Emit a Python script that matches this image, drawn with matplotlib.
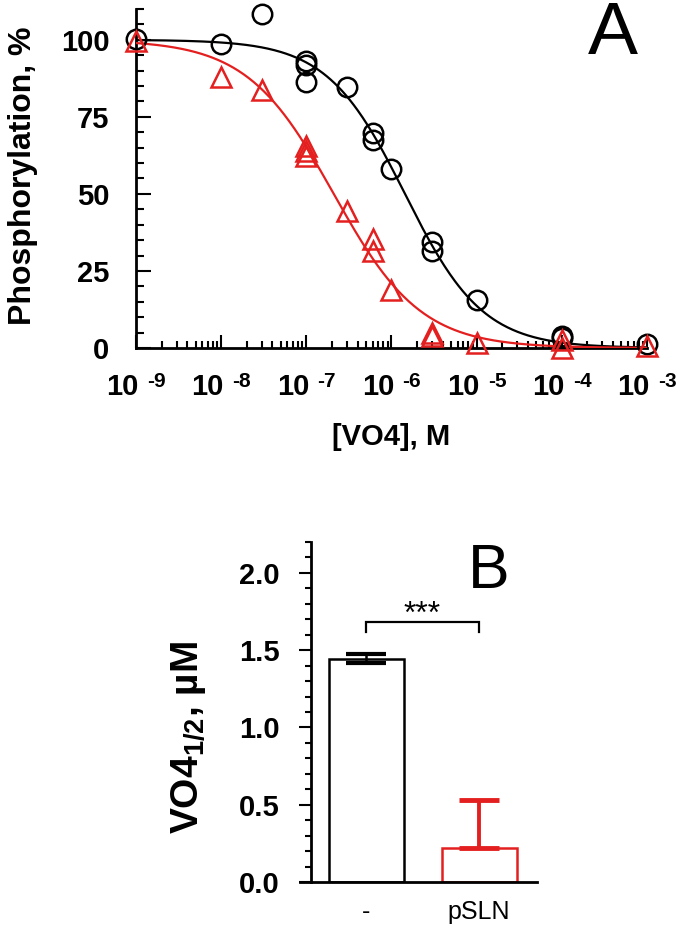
import numpy as np
import matplotlib
matplotlib.use("Agg")
import matplotlib.pyplot as plt
import matplotlib.transforms as mtransforms
from matplotlib.ticker import LogLocator, NullFormatter, MultipleLocator, FixedLocator

plt.rcParams['font.family'] = ['Liberation Sans', 'DejaVu Sans']
plt.rcParams['mathtext.fontset'] = 'custom'
plt.rcParams['mathtext.rm'] = 'Liberation Sans'
plt.rcParams['mathtext.bf'] = 'Liberation Sans:bold'

# panel A data: [VO4] in M, phosphorylation in %
CTRL_X = [1e-9, 1e-8, 3e-8, 1e-7, 1e-7, 1e-7, 3e-7, 6e-7, 6e-7, 1e-6, 3e-6, 3e-6, 1e-5, 1e-4, 1e-4, 1e-3]
CTRL_Y = [100.2, 98.6, 108.4, 93.0, 91.9, 86.2, 84.6, 69.7, 67.6, 58.0, 34.3, 31.4, 15.7, 3.8, 3.2, 1.2]
PSLN_X = [1e-9, 1e-8, 3e-8, 1e-7, 1e-7, 1e-7, 3e-7, 6e-7, 6e-7, 1e-6, 3e-6, 3e-6, 1e-5, 1e-4, 1e-4, 1e-3]
PSLN_Y = [99.5, 88.0, 83.6, 65.4, 63.8, 62.2, 44.3, 35.3, 31.4, 18.9, 4.9, 3.8, 1.5, 2.5, 0.0, 0.5]

# Hill fits (IC50 in M, Hill coefficient)
CTRL_FIT = (1.44e-6, 0.95)
PSLN_FIT = (2.1e-7, 0.85)

XTICKS = [1e-9, 1e-8, 1e-7, 1e-6, 1e-5, 1e-4, 1e-3]
XTICK_EXP = ['-9', '-8', '-7', '-6', '-5', '-4', '-3']

# panel B data: VO4 1/2 in uM
BAR_LABELS = ['-', 'pSLN']
BAR_VALUES = [1.44, 0.22]
BAR_ERR_LOW = [0.025, 0.0]
BAR_ERR_HIGH = [0.035, 0.31]

RED = '#e3201f'
BLACK = 'black'

fig = plt.figure(figsize=(6.85, 9.34), dpi=100)

# ---------------- panel A ----------------
axA = fig.add_axes([0.1985, 0.6274, 0.746, 0.363])
xs = np.logspace(-9, -3, 400)
for (ic50, n), col in [(CTRL_FIT, BLACK), (PSLN_FIT, RED)]:
    axA.plot(xs, 100.0 / (1.0 + (xs / ic50) ** n), color=col, lw=1.6, zorder=3)

axA.plot(CTRL_X, CTRL_Y, 'o', ms=14, mfc='none', mec=BLACK, mew=1.8, clip_on=False, zorder=4)
axA.plot(PSLN_X, PSLN_Y, '^', ms=14, mfc='none', mec=RED, mew=1.8, clip_on=False, zorder=5)

axA.set_xscale('log')
axA.set_xlim(1e-9, 1e-3)
axA.set_ylim(0, 110)
axA.xaxis.set_major_locator(FixedLocator(XTICKS))
axA.xaxis.set_major_formatter(NullFormatter())
axA.xaxis.set_minor_locator(LogLocator(base=10, subs=np.arange(2, 10)))
axA.xaxis.set_minor_formatter(NullFormatter())
axA.set_yticks([0, 25, 50, 75, 100])
axA.yaxis.set_minor_locator(MultipleLocator(5))

# x tick labels as "10" plus a raised exponent
trans = mtransforms.blended_transform_factory(axA.transData, axA.transAxes)
for xt, ex in zip(XTICKS, XTICK_EXP):
    t1 = trans + mtransforms.ScaledTranslation(2 / 72, -39 / 100, fig.dpi_scale_trans)
    axA.text(xt, 0, '10', transform=t1, ha='right', va='center', fontsize=21,
             fontweight='bold', clip_on=False)
    t2 = trans + mtransforms.ScaledTranslation(8 / 72, -33 / 100, fig.dpi_scale_trans)
    axA.text(xt, 0, ex, transform=t2, ha='left', va='center', fontsize=15,
             fontweight='bold', clip_on=False)

for s in ['top', 'right']:
    axA.spines[s].set_visible(False)
for s in ['left', 'bottom']:
    axA.spines[s].set_linewidth(2)

axA.tick_params(axis='x', which='major', direction='in', length=9.5, width=1.5)
axA.tick_params(axis='x', which='minor', direction='in', length=5, width=1.5)
axA.tick_params(axis='y', which='major', direction='in', length=10.5, width=1.5, pad=19, labelsize=21)
axA.tick_params(axis='y', which='minor', direction='in', length=6, width=1.5)
for lbl in axA.get_yticklabels():
    lbl.set_fontweight('bold')

fig.text(23 / 685, 1 - 176 / 934, 'Phosphorylation, %', rotation=90, ha='center', va='center',
         fontsize=23, fontweight='bold')
fig.text(391 / 685, 1 - 437 / 934, '[VO4], M', ha='center', va='center', fontsize=21, fontweight='bold')
fig.text(613 / 685, 1 - 34 / 934, 'A', ha='center', va='center', fontsize=54)

# ---------------- panel B ----------------
axB = fig.add_axes([0.438, 0.0557, 0.346, 0.364])
pos = np.arange(len(BAR_VALUES))
cols = [BLACK, RED]
axB.bar(pos, BAR_VALUES, width=0.664, color='white', edgecolor=cols, linewidth=1.8, zorder=2)
axB.errorbar(pos[0], BAR_VALUES[0], yerr=[[BAR_ERR_LOW[0]], [BAR_ERR_HIGH[0]]], fmt='none',
             ecolor=BLACK, elinewidth=1.8, capsize=14.5, capthick=3, zorder=3)
axB.errorbar(pos[1], BAR_VALUES[1], yerr=[[BAR_ERR_LOW[1]], [BAR_ERR_HIGH[1]]], fmt='none',
             ecolor=RED, elinewidth=2.8, capsize=14.5, capthick=3.5, zorder=3)

axB.set_xlim(-0.584, 1.513)
axB.set_ylim(0, 2.2)
axB.set_xticks(pos)
axB.set_xticklabels(BAR_LABELS)
axB.set_yticks([0.0, 0.5, 1.0, 1.5, 2.0])
axB.set_yticklabels(['0.0', '0.5', '1.0', '1.5', '2.0'])
axB.yaxis.set_minor_locator(MultipleLocator(0.1))
axB.spines['left'].set_position(('data', -0.487))
for s in ['top', 'right']:
    axB.spines[s].set_visible(False)
for s in ['left', 'bottom']:
    axB.spines[s].set_linewidth(2)
axB.tick_params(axis='x', length=0, pad=13, labelsize=18)
axB.tick_params(axis='y', which='major', direction='out', length=8.5, width=1.5, pad=14, labelsize=21)
axB.tick_params(axis='y', which='minor', direction='out', length=4.5, width=1.5)
for lbl in axB.get_yticklabels():
    lbl.set_fontweight('bold')

# significance bracket
axB.plot([pos[0], pos[0], pos[1], pos[1]], [1.62, 1.685, 1.685, 1.62], color=BLACK, lw=1.6,
         solid_joinstyle='miter', zorder=3)
axB.text((pos[0] + pos[1]) / 2, 1.73, '***', ha='center', va='center', fontsize=23)

fig.text(188 / 685, 1 - 738 / 934, r'VO4$_{\mathbf{1/2}}$, µM', rotation=90, ha='center', va='center',
         fontsize=28, fontweight='bold')
fig.text(489 / 685, 1 - 572 / 934, 'B', ha='center', va='center', fontsize=45)

fig.savefig('out.png', dpi=100)
